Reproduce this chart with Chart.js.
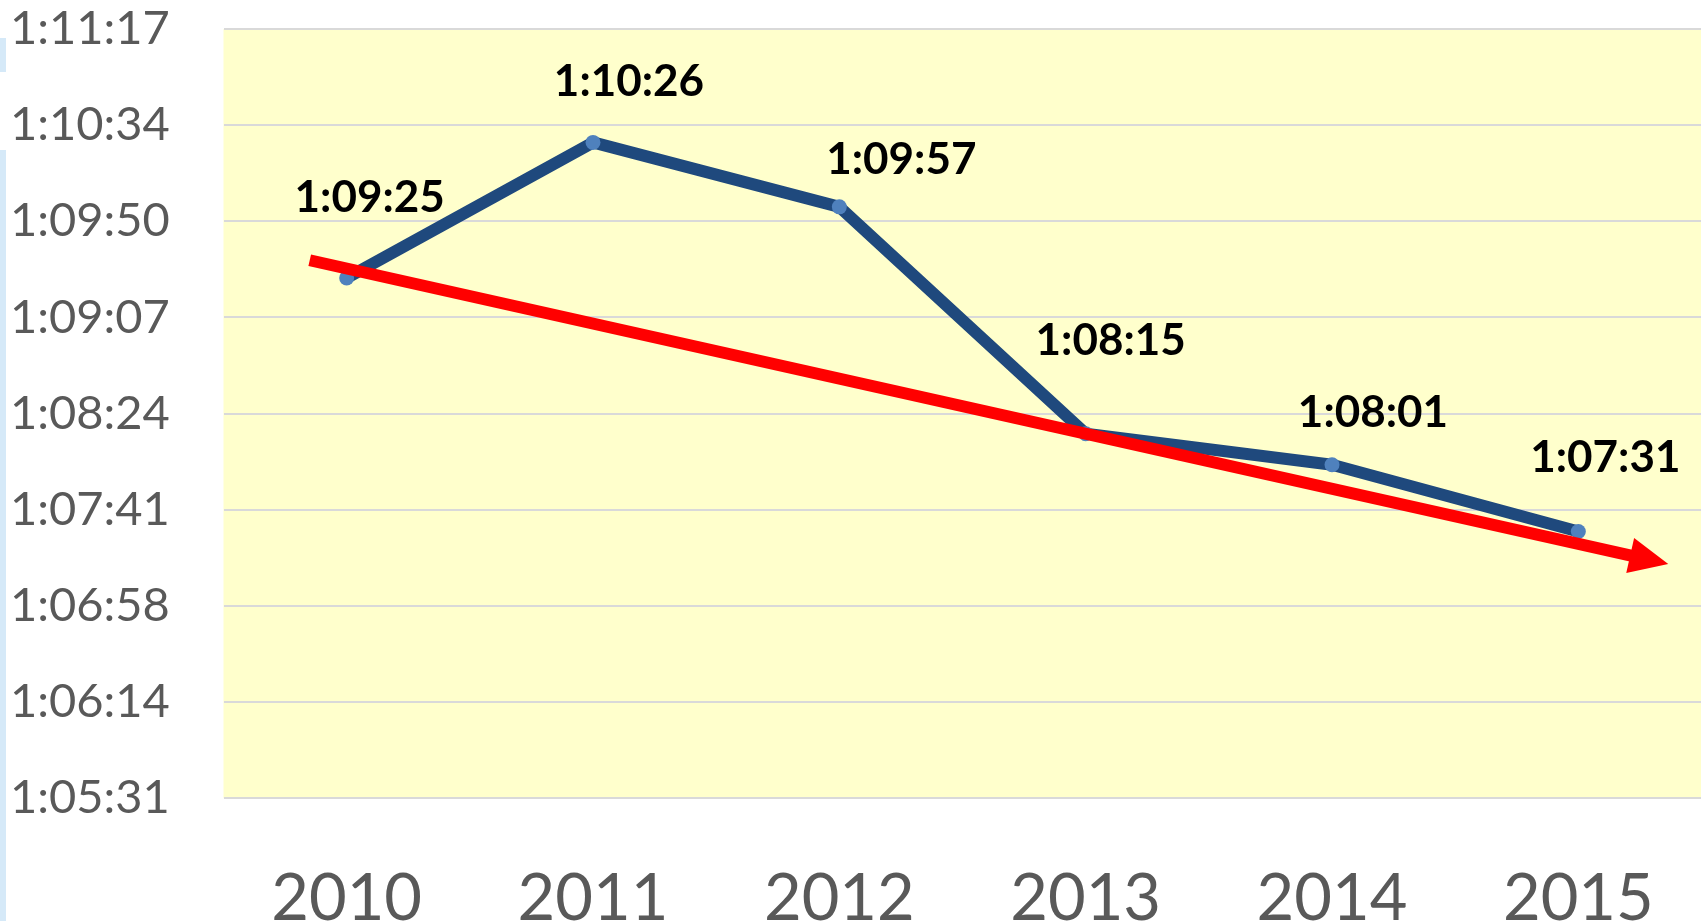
<!DOCTYPE html>
<html>
<head>
<meta charset="utf-8">
<script src="https://cdn.jsdelivr.net/npm/chart.js@4.4.1/dist/chart.umd.min.js"></script>
<style>
  html, body { margin: 0; padding: 0; background: #ffffff; overflow: hidden; }
  #wrap { position: relative; width: 1701px; height: 921px; overflow: hidden; }
  canvas { display: block; }
  .strip { position: absolute; left: 0; width: 6px; background: #d5e9f8; }
</style>
</head>
<body>
<div id="wrap">
  <canvas id="c" width="1709" height="921"></canvas>
  <div class="strip" style="top:38px;height:34px"></div>
  <div class="strip" style="top:150px;height:771px"></div>
</div>
<script>
// ---- data ----
const categories = ['2010', '2011', '2012', '2013', '2014', '2015'];
// race times in seconds (h:mm:ss)
const timesSeconds = [4165, 4226, 4197, 4095, 4081, 4051];
const dataLabels = ['1:09:25', '1:10:26', '1:09:57', '1:08:15', '1:08:01', '1:07:31'];
const yTickLabels = ['1:05:31', '1:06:14', '1:06:58', '1:07:41', '1:08:24', '1:09:07', '1:09:50', '1:10:34', '1:11:17'];
const yMin = 3931;
const yMax = 4277;
const yStep = 43.25;
// trend arrow: category-index positions and values (seconds)
const trendX = [-0.15, 5.365];
const trendY = [4173, 4036.4];

// ---- plugins ----
const bgPlugin = {
  id: 'plotBg',
  beforeDraw(chart) {
    const { ctx, chartArea: a } = chart;
    ctx.save();
    ctx.fillStyle = '#ffffcc';
    ctx.fillRect(a.left, a.top, a.right - a.left, a.bottom - a.top);
    ctx.restore();
  }
};

const labelOffsets = [[23, -80], [36, -61], [62, -47], [25, -93], [41, -52], [27, -74]];
const arrowPlugin = {
  id: 'trendArrow',
  afterDatasetsDraw(chart) {
    const { ctx } = chart;
    const xs = chart.scales.x, ys = chart.scales.y;
    const x0 = xs.getPixelForValue(trendX[0]), y0 = ys.getPixelForValue(trendY[0]);
    const x1 = xs.getPixelForValue(trendX[1]), y1 = ys.getPixelForValue(trendY[1]);
    const dx = x1 - x0, dy = y1 - y0, len = Math.hypot(dx, dy);
    const ux = dx / len, uy = dy / len;
    const headLen = 39, headHalf = 18;
    const bx = x1 - ux * headLen, by = y1 - uy * headLen;
    ctx.save();
    ctx.strokeStyle = '#ff0000';
    ctx.fillStyle = '#ff0000';
    ctx.lineWidth = 12;
    ctx.lineCap = 'butt';
    ctx.beginPath();
    ctx.moveTo(x0, y0);
    ctx.lineTo(bx + ux * 2, by + uy * 2);
    ctx.stroke();
    ctx.beginPath();
    ctx.moveTo(x1, y1);
    ctx.lineTo(bx - uy * headHalf, by + ux * headHalf);
    ctx.lineTo(bx + uy * headHalf, by - ux * headHalf);
    ctx.closePath();
    ctx.fill();
    ctx.restore();

    // data labels
    const meta = chart.getDatasetMeta(0);
    ctx.save();
    ctx.font = 'bold 44px Lato';
    ctx.fillStyle = '#000000';
    ctx.textAlign = 'center';
    ctx.textBaseline = 'middle';
    meta.data.forEach((pt, i) => {
      const o = labelOffsets[i];
      ctx.fillText(dataLabels[i], pt.x + o[0], pt.y + o[1]);
    });
    ctx.restore();
  }
};

new Chart(document.getElementById('c'), {
  type: 'line',
  data: {
    labels: categories,
    datasets: [{
      data: timesSeconds,
      borderColor: '#1f497d',
      borderWidth: 12,
      borderJoinStyle: 'round',
      pointRadius: 7.5,
      pointBackgroundColor: '#4f81bd',
      pointBorderWidth: 0,
      tension: 0,
      fill: false
    }]
  },
  options: {
    responsive: false,
    devicePixelRatio: 1,
    animation: false,
    layout: { padding: { left: 10, top: 29, right: 0, bottom: 0 } },
    plugins: { legend: { display: false }, tooltip: { enabled: false } },
    scales: {
      x: {
        type: 'category',
        offset: true,
        grid: { display: false, drawTicks: false },
        border: { display: false },
        ticks: {
          color: '#595959',
          font: { family: 'Lato', size: 65 },
          padding: 62,
          maxRotation: 0,
          autoSkip: false
        },
        afterFit(s) { s.height = 122.7; s.paddingLeft = 0; s.paddingRight = 0; }
      },
      y: {
        min: yMin,
        max: yMax,
        grid: { color: '#d9d9d9', lineWidth: 2, drawTicks: false },
        border: { display: false },
        ticks: {
          stepSize: yStep,
          color: '#595959',
          font: { family: 'Lato', size: 47 },
          crossAlign: 'far',
          padding: 0,
          callback: (v, i) => yTickLabels[i]
        },
        afterFit(s) { s.width = 213.5; }
      }
    }
  },
  plugins: [bgPlugin, arrowPlugin]
});
</script>
</body>
</html>
